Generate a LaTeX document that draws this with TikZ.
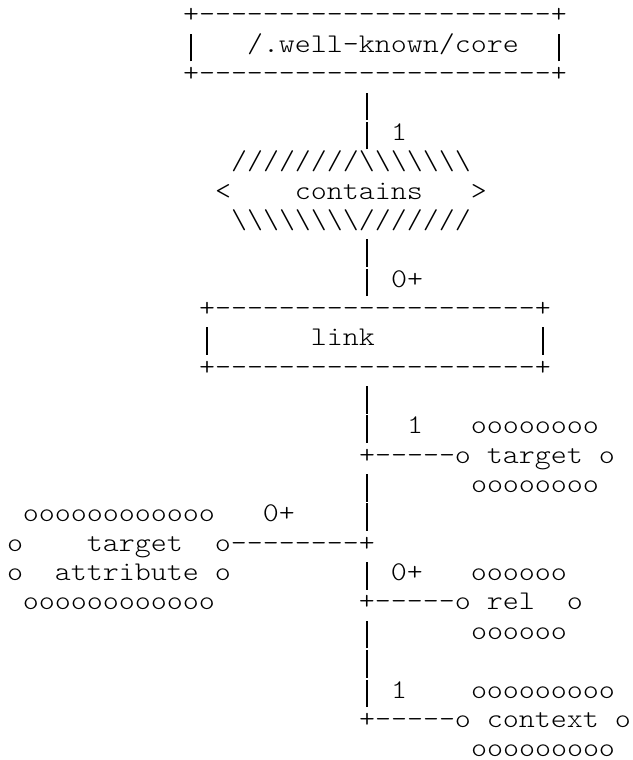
\documentclass[tikz,border=0pt]{standalone}
\usepackage{fontspec}
% Light typewriter face, widened so one character cell is 16pt at 27pt size
\newfontfamily\asciifont{lmmonolt10-regular.otf}[FakeStretch=1.1287]

% n copies of a character, kept apart so no ligature mapping joins them
\newcommand\rep[2]{\foreach\k in {1,...,#1}{#2\kern0pt}}
% a tall vertical bar filling one character cell
\newcommand\vb{\makebox[16pt]{\rule[-9pt]{1.3pt}{27.5pt}}}

\tikzset{
  ascii/.style={anchor=base west, inner sep=0pt, outer sep=0pt,
    font=\asciifont\fontsize{27}{29.4}\selectfont},
}

% \seg{name}{line}{column}{text}: one run of characters on the 16pt x 29.35pt grid
\newcommand\seg[4]{\node[ascii] (#1) at ({7pt+16pt*#3},{737pt-29.35pt*#2}) {#4};}

\begin{document}
\begin{tikzpicture}
  \fill[white] (0,0) rectangle (632pt,760pt);
  \useasboundingbox (0,0) rectangle (632pt,760pt);

  % /.well-known/core resource box
  \seg{coreTop}{0}{11}{+\rep{22}{-}+}
  \seg{coreMid}{1}{11}{\vb~~~/.well-known/core~~\vb}
  \seg{coreBot}{2}{11}{+\rep{22}{-}+}
  \seg{coreLineA}{3}{22}{\vb}
  \seg{coreLineB}{4}{22}{\vb~1}

  % "contains" relationship
  \seg{relTop}{5}{14}{\rep{8}{/}\rep{7}{\textbackslash}}
  \seg{relMid}{6}{13}{<~~~~contains~~~>}
  \seg{relBot}{7}{14}{\rep{8}{\textbackslash}\rep{7}{/}}
  \seg{relLineA}{8}{22}{\vb}
  \seg{relLineB}{9}{22}{\vb~0+}

  % link entity
  \seg{linkTop}{10}{12}{+\rep{20}{-}+}
  \seg{linkMid}{11}{12}{\vb~~~~~~link~~~~~~~~~~\vb}
  \seg{linkBot}{12}{12}{+\rep{20}{-}+}
  \seg{linkLine}{13}{22}{\vb}

  % target attribute (right)
  \seg{targetTop}{14}{22}{\vb~~1~~~\rep{8}{o}}
  \seg{targetMid}{15}{22}{+\rep{5}{-}o~target~o}
  \seg{targetBot}{16}{22}{\vb~~~~~~\rep{8}{o}}

  % target attributes (left)
  \seg{attrTop}{17}{1}{\rep{12}{o}~~~0+~~~~\vb}
  \seg{attrMid}{18}{0}{o~~~~target~~o\rep{8}{-}+}
  \seg{attrLow}{19}{0}{o~~attribute~o~~~~~~~~\vb~0+~~~\rep{6}{o}}

  % rel attribute
  \seg{relAttrMid}{20}{1}{\rep{12}{o}~~~~~~~~~+\rep{5}{-}o~rel~~o}
  \seg{relAttrBot}{21}{22}{\vb~~~~~~\rep{6}{o}}
  \seg{ctxLine}{22}{22}{\vb}

  % context attribute
  \seg{ctxTop}{23}{22}{\vb~1~~~~\rep{9}{o}}
  \seg{ctxMid}{24}{22}{+\rep{5}{-}o~context~o}
  \seg{ctxBot}{25}{29}{\rep{9}{o}}
\end{tikzpicture}
\end{document}
